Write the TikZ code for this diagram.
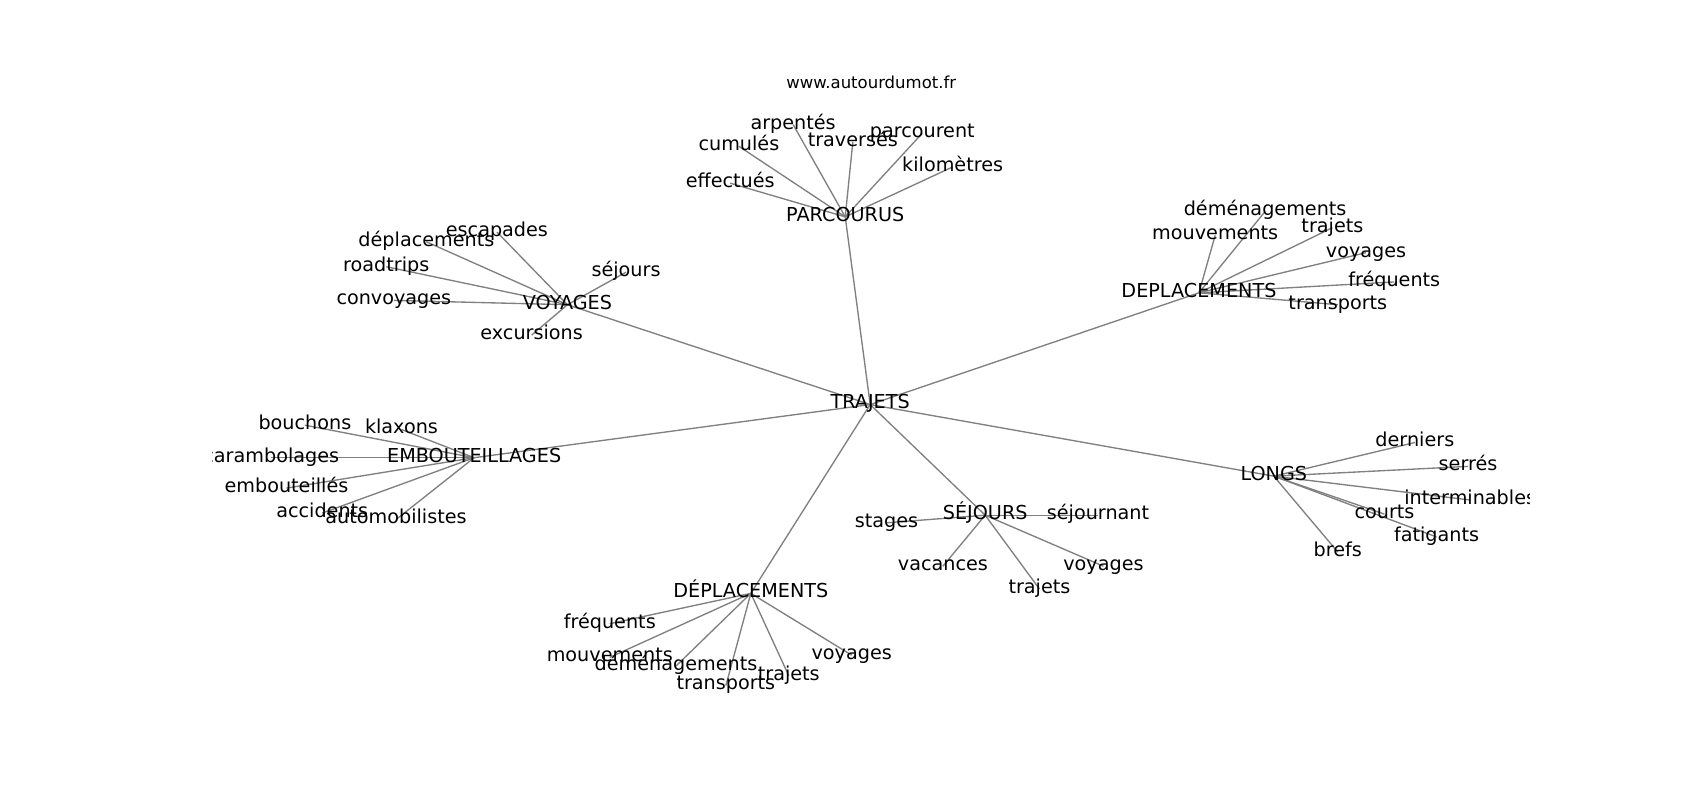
\documentclass[tikz,border=0pt]{standalone}
\usepackage{fontspec}
\setmainfont{DejaVu Sans}
\usetikzlibrary{backgrounds}
\begin{document}
\begin{tikzpicture}[x=1.085pt, y=-1.085pt,
  lbl/.style={inner sep=0pt, text height=0.9em, text depth=0.02em, yshift=-2pt, font=\fontsize{19.2}{22}\selectfont},
  ttl/.style={inner sep=0pt, text height=0.76em, text depth=0.21em, yshift=-3.3pt, font=\fontsize{16.5}{19}\selectfont},
  edge/.style={draw=black!50, line width=1.35pt}]
\useasboundingbox (0,0) rectangle (1566.8,737.3);
\node[ttl] (title) at (803,76) {www.autourdumot.fr};
\begin{scope}
\clip (196,88) rectangle (1410,656);
% hubs
\node[lbl] (trajets) at (802,371) {TRAJETS};
\node[lbl] (parcourus) at (779,198) {PARCOURUS};
\node[lbl] (voyages) at (523,279) {VOYAGES};
\node[lbl] (deplR) at (1105,268) {DEPLACEMENTS};
\node[lbl] (embout) at (437,420) {EMBOUTEILLAGES};
\node[lbl] (longs) at (1174,437) {LONGS};
\node[lbl] (sejours) at (908,473) {SÉJOURS};
\node[lbl] (deplB) at (692,545) {DÉPLACEMENTS};
% PARCOURUS leaves
\node[lbl] (effectues) at (673,167) {effectués};
\node[lbl] (cumules) at (681,133) {cumulés};
\node[lbl] (arpentes) at (731,113) {arpentés};
\node[lbl] (traverses) at (786,129) {traversés};
\node[lbl] (parcourent) at (850,121) {parcourent};
\node[lbl] (kilometres) at (878,152) {kilomètres};
% VOYAGES leaves
\node[lbl] (escapades) at (458,212) {escapades};
\node[lbl] (deplV) at (393,221) {déplacements};
\node[lbl] (roadtrips) at (356,244) {roadtrips};
\node[lbl] (convoyages) at (363,275) {convoyages};
\node[lbl] (sejoursV) at (577,249) {séjours};
\node[lbl] (excursions) at (490,307) {excursions};
% DEPLACEMENTS (right) leaves
\node[lbl] (demenagR) at (1166,193) {déménagements};
\node[lbl] (mouvR) at (1120,215) {mouvements};
\node[lbl] (trajR) at (1228,208) {trajets};
\node[lbl] (voyR) at (1259,231) {voyages};
\node[lbl] (freqR) at (1285,258) {fréquents};
\node[lbl] (transpR) at (1233,279) {transports};
% EMBOUTEILLAGES leaves
\node[lbl] (bouchons) at (281,390) {bouchons};
\node[lbl] (klaxons) at (370,394) {klaxons};
\node[lbl] (carambolages) at (250,420) {carambolages};
\node[lbl] (embouteilles) at (264,448) {embouteillés};
\node[lbl] (accidents) at (297,471) {accidents};
\node[lbl] (automobilistes) at (365,477) {automobilistes};
% LONGS leaves
\node[lbl] (derniers) at (1304,406) {derniers};
\node[lbl] (serres) at (1353,428) {serrés};
\node[lbl] (interminables) at (1355,459) {interminables};
\node[lbl] (courts) at (1276,472) {courts};
\node[lbl] (fatigants) at (1324,493) {fatigants};
\node[lbl] (brefs) at (1233,507) {brefs};
% SEJOURS leaves
\node[lbl] (stages) at (817,480) {stages};
\node[lbl] (sejournant) at (1012,473) {séjournant};
\node[lbl] (vacances) at (869,520) {vacances};
\node[lbl] (voyS) at (1017,520) {voyages};
\node[lbl] (trajS) at (958,541) {trajets};
% DEPLACEMENTS (bottom) leaves
\node[lbl] (freqB) at (562,573) {fréquents};
\node[lbl] (mouvB) at (562,604) {mouvements};
\node[lbl] (demenagB) at (623,612) {déménagements};
\node[lbl] (transpB) at (669,630) {transports};
\node[lbl] (trajB) at (727,621) {trajets};
\node[lbl] (voyB) at (785,602) {voyages};
\end{scope}
\begin{pgfonlayer}{background}
\foreach \h in {parcourus,voyages,deplR,embout,longs,sejours,deplB}
  \draw[edge] (trajets.center) -- (\h.center);
\foreach \l in {effectues,cumules,arpentes,traverses,parcourent,kilometres}
  \draw[edge] (parcourus.center) -- (\l.center);
\foreach \l in {escapades,deplV,roadtrips,convoyages,sejoursV,excursions}
  \draw[edge] (voyages.center) -- (\l.center);
\foreach \l in {demenagR,mouvR,trajR,voyR,freqR,transpR}
  \draw[edge] (deplR.center) -- (\l.center);
\foreach \l in {bouchons,klaxons,carambolages,embouteilles,accidents,automobilistes}
  \draw[edge] (embout.center) -- (\l.center);
\foreach \l in {derniers,serres,interminables,courts,fatigants,brefs}
  \draw[edge] (longs.center) -- (\l.center);
\foreach \l in {stages,sejournant,vacances,voyS,trajS}
  \draw[edge] (sejours.center) -- (\l.center);
\foreach \l in {freqB,mouvB,demenagB,transpB,trajB,voyB}
  \draw[edge] (deplB.center) -- (\l.center);
\end{pgfonlayer}
\end{tikzpicture}
\end{document}
